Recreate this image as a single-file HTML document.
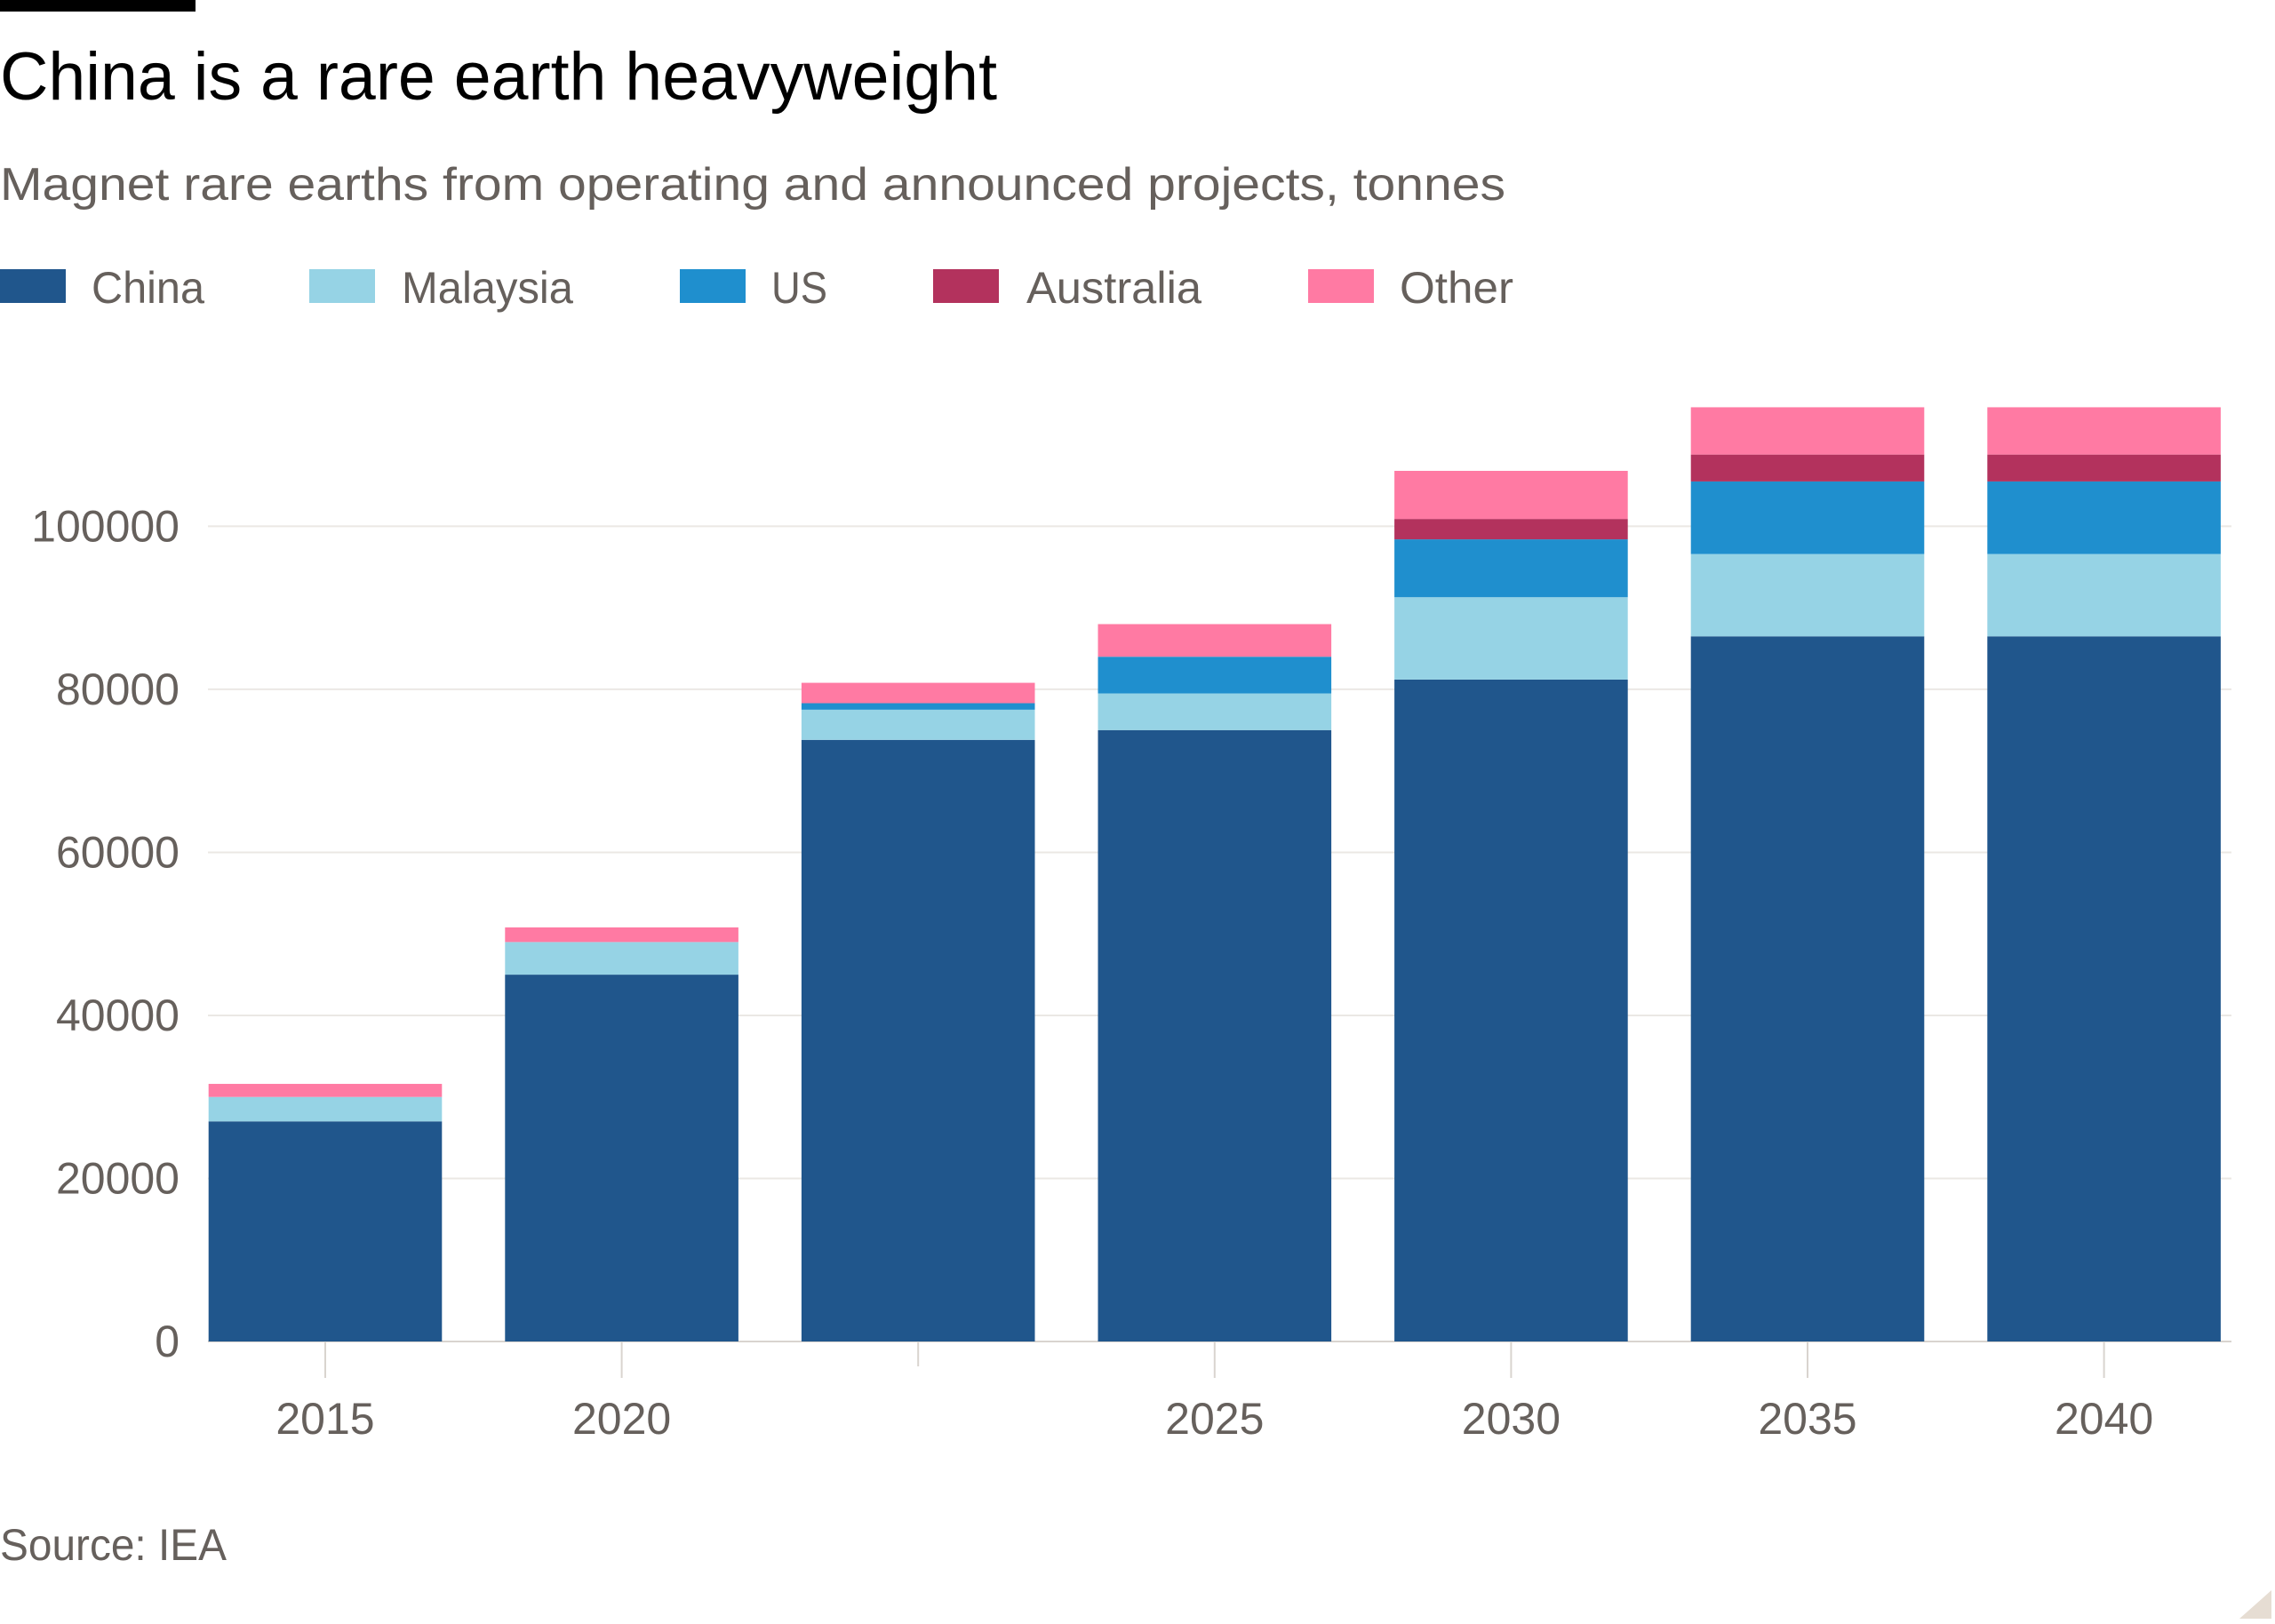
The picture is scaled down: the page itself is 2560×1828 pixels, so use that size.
<!DOCTYPE html>
<html><head><meta charset="utf-8"><style>
html,body{margin:0;padding:0;background:#fff;}
svg{display:block;font-family:"Liberation Sans",sans-serif;}
</style></head><body>
<svg id="chart" width="2560" height="1828" viewBox="0 0 2560 1828">
<rect x="0" y="0" width="220" height="13" fill="#000"/>
<text x="0" y="112" font-size="76" fill="#000" textLength="1122" lengthAdjust="spacingAndGlyphs">China is a rare earth heavyweight</text>
<text x="0" y="225" font-size="52" fill="#66605c" textLength="1694" lengthAdjust="spacingAndGlyphs">Magnet rare earths from operating and announced projects, tonnes</text>
<g id="legend"></g>
<g id="grid"></g>
<g id="bars"></g>
<g id="axes"></g>
<text x="0" y="1756" font-size="50" fill="#66605c" textLength="255" lengthAdjust="spacingAndGlyphs">Source: IEA</text>
<polygon points="2556,1790 2556,1822 2520,1822" fill="#e6ddd3"/>
</svg>
<script>
const categories = ["2015","2020","2023","2025","2030","2035","2040"];
const tickLabels = ["2015","2020","","2025","2030","2035","2040"];
const seriesNames = ["China","Malaysia","US","Australia","Other"];
const china     = [27000,45000,73800,75000,81200,86500,86500];
const malaysia  = [3000,4000,3700,4500,10100,10100,10100];
const us        = [0,0,800,4500,7100,8900,8900];
const australia = [0,0,0,0,2500,3300,3300];
const other     = [1600,1800,2500,4000,5900,5800,5800];
const yTicks = [0,20000,40000,60000,80000,100000];
const colors = ["#20568c","#96d3e5","#1f8fce","#b3325d","#ff7aa3"];

const NS="http://www.w3.org/2000/svg";
function mk(tag,attrs,parent){const e=document.createElementNS(NS,tag);for(const k in attrs)e.setAttribute(k,attrs[k]);parent.appendChild(e);return e;}
const y0=1510, yPer=(1510-592.4)/100000;
const yScale=v=>y0-v*yPer;
const xLeft=234.7, step=333.6, bw=262.6;
const xScale=i=>xLeft+i*step;

// legend
const legend=document.getElementById('legend');
const legSq=[0,348,765,1050,1472], legTx=[103,452,868,1155,1575], legW=[127,193,63,197,128];
seriesNames.forEach((n,i)=>{
  const r=mk('rect',{x:legSq[i],y:303,width:74,height:38,fill:colors[i]},legend);
  
  
  const t=mk('text',{x:legTx[i],y:341,'font-size':50,fill:'#66605c',textLength:legW[i],lengthAdjust:'spacingAndGlyphs'},legend);
  t.textContent=n;
  
  
});

// grid
const grid=document.getElementById('grid');
yTicks.forEach(v=>{
  const l=mk('line',{x1:234,x2:2511,y1:yScale(v),y2:yScale(v),stroke:v===0?'#d9d4cf':'#ebe8e4','stroke-width':2},grid);
  
  
  const t=mk('text',{x:202,y:yScale(v)+17,'font-size':50,fill:'#66605c','text-anchor':'end'},grid);
  t.textContent=v;
  
  
});

// bars
const bars=document.getElementById('bars');
const series=[china,malaysia,us,australia,other];
categories.forEach((c,i)=>{
  let base=0;
  series.forEach((s,k)=>{
    const v=s[i]; if(!v){return;}
    const r=mk('rect',{x:xScale(i),y:yScale(base+v),width:bw,height:v*yPer,fill:colors[k]},bars);
    
    
    base+=v;
  });
});

// x axis
const axes=document.getElementById('axes');
categories.forEach((c,i)=>{
  const cx=xScale(i)+bw/2;
  const l=mk('line',{x1:cx,x2:cx,y1:1510,y2:tickLabels[i]?1551:1538,stroke:'#d9d4cf','stroke-width':2},axes);
  
  
  if(tickLabels[i]){
    const t=mk('text',{x:cx,y:1614,'font-size':50,fill:'#66605c','text-anchor':'middle'},axes);
    t.textContent=tickLabels[i];
    
    
  }
});
</script>
</body></html>
